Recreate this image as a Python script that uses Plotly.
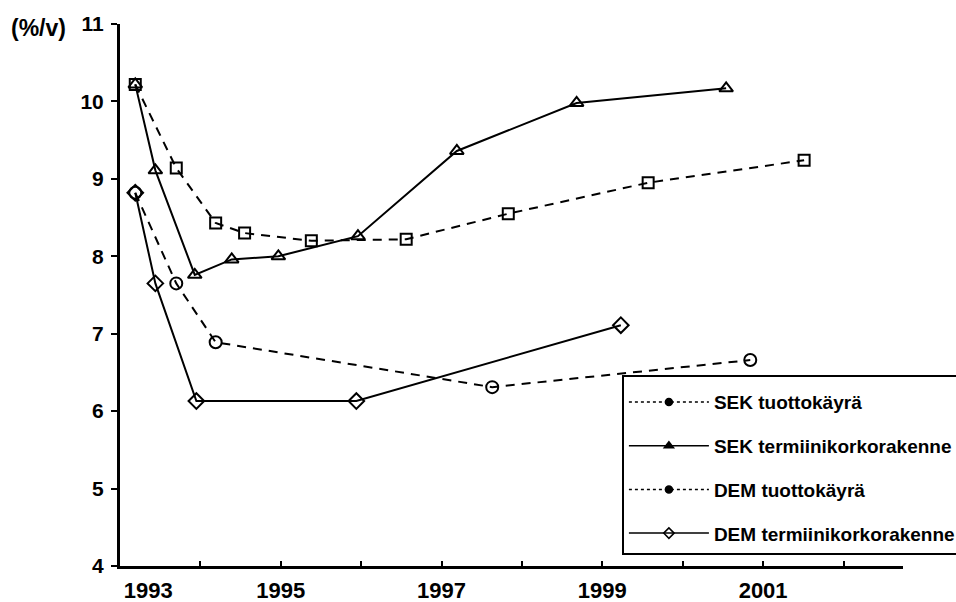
import plotly.graph_objects as go

# ---- data ----
sek_yield_x = [1993.19, 1993.70, 1994.19, 1994.55, 1995.38, 1996.56, 1997.83, 1999.57, 2001.51]
sek_yield_y = [10.22, 9.14, 8.43, 8.30, 8.20, 8.22, 8.55, 8.95, 9.24]

sek_fwd_x = [1993.19, 1993.44, 1993.93, 1994.39, 1994.97, 1995.96, 1997.19, 1998.68, 2000.54]
sek_fwd_y = [10.22, 9.11, 7.76, 7.96, 8.00, 8.26, 9.36, 9.98, 10.17]

dem_yield_x = [1993.19, 1993.70, 1994.19, 1997.63, 2000.84]
dem_yield_y = [8.82, 7.65, 6.89, 6.31, 6.66]

dem_fwd_x = [1993.19, 1993.44, 1993.95, 1995.94, 1999.23]
dem_fwd_y = [8.82, 7.65, 6.13, 6.13, 7.11]

series_names = ["SEK tuottokäyrä", "SEK termiinikorkorakenne",
                "DEM tuottokäyrä", "DEM termiinikorkorakenne"]

x_label_vals = [1993.35, 1995, 1997, 1999, 2001]
x_label_text = ["1993", "1995", "1997", "1999", "2001"]
x_year_ticks = [1994, 1995, 1996, 1997, 1998, 1999, 2000, 2001, 2002]
y_ticks = [4, 5, 6, 7, 8, 9, 10, 11]
y_unit = "(%/v)"

FONT = "Liberation Sans"
BLACK = "#000000"

fig = go.Figure()

def add_series(x, y, dash, symbol, size):
    fig.add_trace(go.Scatter(
        x=x, y=y, mode="lines+markers", showlegend=False,
        line=dict(color=BLACK, width=2, dash=dash),
        marker=dict(symbol=symbol, size=size, color=BLACK,
                    line=dict(color=BLACK, width=2)),
        hoverinfo="x+y",
    ))

add_series(sek_yield_x, sek_yield_y, "9px,7px", "square-open", 11)
add_series(sek_fwd_x, sek_fwd_y, "solid", "triangle-up-open", 12)
add_series(dem_yield_x, dem_yield_y, "9px,7px", "circle-open", 12)
add_series(dem_fwd_x, dem_fwd_y, "solid", "diamond-open", 12)

# legend-only entries (styled like the printed legend)
legend_styles = [
    ("dot", "circle", 7),
    ("solid", "triangle-up", 8),
    ("dot", "circle", 7),
    ("solid", "diamond-open", 8),
]
for i, (name, (dash, sym, sz)) in enumerate(zip(series_names, legend_styles)):
    fig.add_trace(go.Scatter(
        x=[None], y=[None], xaxis="x2", mode="lines+markers", name=name,
        legendgroup=f"g{i}",
        line=dict(color=BLACK, width=1.5, dash=dash),
        marker=dict(symbol=sym, size=sz, color=BLACK,
                    line=dict(color=BLACK, width=1.5)),
    ))

x_range = [1993, 2002.74]

fig.update_layout(
    width=956, height=602,
    margin=dict(l=120, r=53, t=24, b=36, autoexpand=False),
    paper_bgcolor="white", plot_bgcolor="white",
    font=dict(family=FONT, color=BLACK, weight="bold"),
    xaxis=dict(
        range=x_range, tickvals=x_label_vals, ticktext=x_label_text,
        ticks="", showgrid=False, zeroline=False, automargin=False,
        showline=True, linecolor=BLACK, linewidth=3,
        tickfont=dict(size=22, family=FONT, color=BLACK, weight="bold"),
        ticklabelstandoff=3,
    ),
    xaxis2=dict(
        range=x_range, overlaying="x", anchor="y", side="bottom",
        tickvals=x_year_ticks, ticks="inside", ticklen=5, tickwidth=2,
        tickcolor=BLACK, showticklabels=False, showgrid=False,
        zeroline=False, showline=False, automargin=False,
    ),
    yaxis=dict(
        range=[4, 11], tickvals=y_ticks, ticks="outside", ticklen=6,
        tickwidth=2, tickcolor=BLACK, showgrid=False, zeroline=False,
        showline=True, linecolor=BLACK, linewidth=3, automargin=False,
        tickfont=dict(size=21, family=FONT, color=BLACK, weight="bold"),
        ticklabelstandoff=3,
    ),
    legend=dict(
        x=0.641, y=0.353, xanchor="left", yanchor="top",
        bgcolor="white", bordercolor=BLACK, borderwidth=2,
        font=dict(size=19, family=FONT, color=BLACK, weight="bold"),
        title=dict(text=" ", font=dict(size=5)),
        traceorder="grouped", tracegroupgap=16, itemwidth=80,
    ),
    annotations=[dict(
        text=y_unit, xref="paper", yref="paper",
        x=-0.104, y=0.993, xanchor="center", yanchor="middle",
        showarrow=False, font=dict(size=23, family=FONT, color=BLACK, weight="bold"),
    )],
)

fig.write_html("out.html",
               config={"displayModeBar": False},
               post_script="document.body.style.margin='0';document.body.style.overflow='hidden';")
